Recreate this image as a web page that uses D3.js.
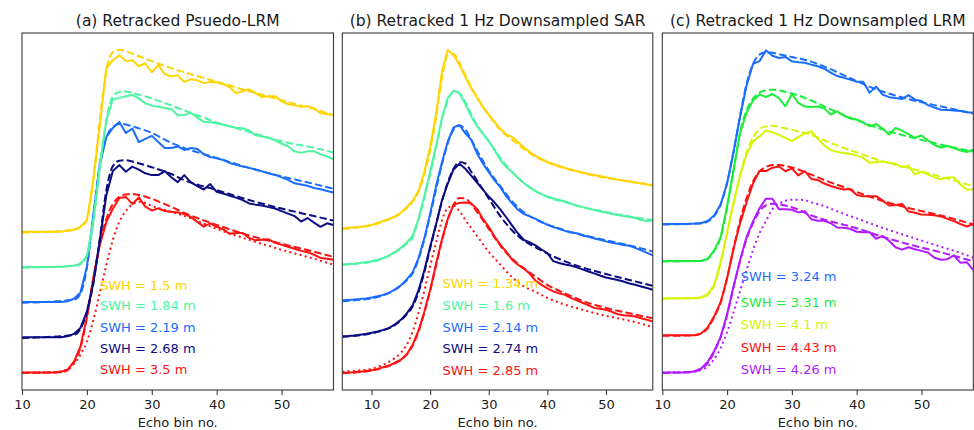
<!DOCTYPE html>
<html><head><meta charset="utf-8">
<script src="https://cdn.jsdelivr.net/npm/d3@7"></script>
<style>body{margin:0;background:#fff}svg{display:block}text{font-family:"DejaVu Sans",sans-serif}</style>
</head><body><svg id="chart" width="974" height="430"></svg>
<script>
// ---------- x (echo bin) arrays ----------
const binsLRM = [10,11,12,13,14,15,16,17,18,19,20,21,22,23,24,25,26,27,28,29,30,31,32,33,34,35,36,37,38,39,40,41,42,43,44,45,46,47,48,49,50,51,52,53,54,55,56,57,58];
const binsSAR = [5,6,7,8,9,10,11,12,13,14,15,16,17,18,19,20,21,22,23,24,25,26,27,28,29,30,31,32,33,34,35,36,37,38,39,40,41,42,43,44,45,46,47,48,49,50,51,52,53,54,55,56,57,58];
const tickValues = [10,20,30,40,50];

// ---------- panel (a): normalised power (%), bottom series first ----------
const A_obs_red    = [1,1,1,1,1,1,1.4,2.5,7.1,15.6,32.6,54.8,73.5,86.6,94.0,100.2,100.8,96.8,100.5,95.3,93.1,94.3,92.8,92.3,92.0,91.1,89.4,86.6,83.9,85.7,83.8,82.3,79.8,80.3,80.3,77.5,76.1,76.4,76.7,74.7,73.5,72.4,71.3,70.1,69.3,67.9,66.1,65.6,65.0];
const A_obs_navy   = [1,1,1,1,1,1,1,1.5,2.9,6.3,15.5,31.8,56.3,81.8,95.5,98.9,95.1,98.0,96.3,94.2,93.2,93.2,95.5,92.0,89.2,93.2,89.2,86.9,85.0,88.1,83.7,82.7,81.5,80.4,79.0,77.1,76.4,75.9,75.0,74.2,72.7,71.3,69.9,66.8,68.8,66.2,63.8,65.8,64.8];
const A_obs_blue   = [1,1,1,1,1,1,1,1.5,2.9,6.3,21.1,50.6,79.0,94.9,100.0,103.4,97.2,99.7,92.0,93.8,95.5,92.0,88.6,88.6,89.5,87.5,88.6,88.1,85.2,83.5,82.7,81.8,80.1,79.0,78.1,77.3,76.4,75.3,74.2,73.3,71.9,70.5,68.5,67.9,67.1,65.9,65.1,64.2,63.3];
const A_obs_green  = [1,1,1,1,1,1,1,1.4,1.7,2.5,7.1,27.5,58.8,84.3,96.3,97.1,98.0,98.8,96.8,94.0,92.8,92.0,91.4,90.6,87.2,87.4,88.6,86.0,83.5,83.2,82.6,81.8,80.9,80.1,79.8,78.6,75.8,75.2,74.4,73.0,71.0,69.6,66.7,65.9,66.7,66.7,65.0,63.9,62.2];
const A_obs_yellow = [1,1,1,1,1,1,1,1.6,2.1,3.7,7.6,30.4,61.6,94.0,98.5,101.4,98.0,98.5,95.1,96.8,91.7,95.7,90.6,89.4,90.0,86.2,87.7,87.2,85.5,86.2,86.0,84.9,83.2,79.8,80.9,82.0,79.8,77.5,78.1,78.1,75.2,73.5,73.0,72.0,72.4,71.3,68.4,67.9,67.3];
const A_fit_red    = [[10,0.7],[16,1.1],[17,2.2],[18,6.5],[19,15.0],[20,32.1],[21,54.8],[22,74.7],[23,88.3],[24,96.8],[25,100.8],[26,102.2],[27,102.5],[28,101.9],[30,99.7],[33,95.1],[35,91.7],[40,84.9],[45,78.9],[50,74.1],[55,69.6],[58,66.7]];
const A_fit_navy   = [[10,0.6],[18,2.3],[19,5.7],[20,15.4],[21,31.8],[22,57.4],[23,84.7],[24,98.3],[25,101.4],[26,101.7],[27,100.9],[30,97.7],[33,93.8],[35,90.3],[40,84.7],[45,79.0],[50,74.2],[55,69.9],[58,67.3]];
const A_fit_blue   = [[10,0.6],[18,2.3],[19,5.7],[20,20.5],[21,50.0],[22,80.1],[23,94.9],[24,100.6],[25,102.3],[26,102.0],[27,100.9],[30,97.2],[33,91.5],[35,88.6],[40,83.0],[45,77.3],[50,72.5],[55,68.2],[58,65.4]];
const A_fit_green  = [[10,0.5],[18,1.7],[19,3.1],[20,7.1],[21,26.4],[22,57.6],[23,84.3],[24,98.0],[25,100.5],[26,100.8],[27,99.9],[30,96.8],[33,92.8],[35,90.0],[40,83.2],[45,77.8],[50,72.4],[55,68.7],[58,66.1]];
const A_fit_yellow = [[10,0.5],[18,2.0],[19,3.7],[20,7.6],[21,31.5],[22,64.4],[23,92.8],[24,103.1],[25,104.5],[26,103.6],[28,100.8],[30,98.0],[33,94.0],[35,91.7],[40,86.3],[45,80.9],[50,75.8],[55,70.7],[58,67.3]];
const A_dot_red    = [[10,0.8],[14,1.1],[16,1.7],[17,2.8],[18,5.9],[19,11.1],[20,18.4],[21,30.9],[22,46.3],[23,62.2],[24,76.4],[25,86.6],[26,92.8],[27,96.5],[28,98.0],[29,97.4],[30,95.7],[32,93.4],[35,90.0],[40,82.6],[45,76.4],[50,70.7],[55,65.6],[58,62.2]];

// ---------- panel (b) ----------
const B_obs_red    = [0.8,0.9,1.1,1.4,1.8,2.2,3.0,4.0,4.9,6.5,8.2,11.3,16.7,24.7,35.5,48.0,62.7,76.4,88.3,96.3,97.4,97.6,97.1,94.0,88.3,83.8,78.2,73.5,69.6,65.0,62.2,59.9,57.1,53.1,50.8,48.8,47.1,46.0,45.1,43.4,42.0,40.6,39.2,37.7,37.2,36.6,35.5,34.1,33.5,33.2,32.8,31.8,30.9,30.0];
const B_obs_navy   = [1.0,1.2,1.5,1.9,2.3,3.0,3.8,4.7,5.8,7.8,10.4,14.1,18.6,27.1,38.5,52.1,64.6,78.2,87.9,95.9,99.1,96.3,92.4,88.5,84.5,80.5,77.1,73.1,68.6,64.0,59.5,55.8,54.4,52.7,50.4,48.4,43.8,42.7,41.9,41.3,40.2,39.1,37.9,36.8,35.6,34.5,33.8,33.1,32.2,31.1,30.3,29.4,28.5,27.5];
const B_obs_blue   = [1.0,1.2,1.4,1.7,2.1,2.6,3.3,4.1,5.3,7.2,9.5,12.9,16.9,24.9,36.2,50.4,65.8,79.4,91.3,99.3,100.7,95.9,92.4,84.5,78.8,73.9,69.2,65.2,60.1,56.1,52.4,50.1,48.7,47.3,45.6,43.9,42.7,41.6,40.5,39.6,39.1,37.9,37.1,36.2,35.4,34.5,33.7,33.1,32.5,32.0,30.8,29.4,28.0,26.6];
const B_obs_green  = [0.9,1.1,1.3,1.7,2.2,2.7,3.6,4.6,6.0,8.0,10.3,13.4,17.1,26.7,39.8,53.4,68.2,84.1,95.5,99.8,98.3,92.0,85.0,79.6,75.3,71.0,65.9,60.2,56.3,53.4,50.0,47.2,44.6,42.6,40.9,39.5,38.4,37.5,36.7,35.5,34.4,33.5,32.7,31.8,31.0,30.4,29.6,29.0,28.4,27.9,27.3,26.2,25.6,25.9];
const B_obs_yellow = [1.0,1.2,1.5,1.7,2.3,2.9,4.0,5.1,6.3,7.7,9.7,13.1,16.5,22.2,33.0,47.2,65.9,89.8,102.3,99.4,93.8,86.9,80.7,75.0,69.9,65.4,61.4,57.4,54.3,52.9,50.0,46.9,44.3,42.1,40.4,38.7,37.5,36.4,35.3,34.4,33.5,32.7,31.8,31.3,30.7,29.9,29.3,28.7,28.2,27.6,27.0,26.4,25.9,25.2];
const B_fit_red    = [[5,0.5],[8,1.2],[10,2.0],[12,3.7],[14,6.2],[16,11.1],[17,16.2],[18,24.1],[19,34.9],[20,47.4],[21,61.6],[22,75.8],[23,87.7],[24,96.3],[25,100.2],[26,99.9],[27,96.8],[28,92.3],[30,82.6],[32,73.0],[34,65.6],[36,60.2],[38,55.4],[40,50.8],[43,46.0],[46,41.7],[50,37.7],[54,34.6],[58,31.8]];
const B_fit_navy   = [[5,0.7],[8,1.6],[10,2.7],[12,4.4],[14,7.5],[16,13.5],[17,18.0],[18,26.0],[19,37.4],[20,51.0],[21,64.6],[22,77.7],[23,88.5],[24,96.4],[25,100.1],[26,99.3],[27,94.7],[28,89.6],[30,79.4],[32,69.2],[34,61.2],[36,55.5],[38,51.6],[40,48.1],[43,43.6],[46,40.2],[50,36.5],[54,33.1],[58,29.7]];
const B_fit_blue   = [[5,0.4],[8,1.3],[10,2.1],[12,3.8],[14,7.0],[16,12.4],[17,16.3],[18,24.3],[19,35.6],[20,49.3],[21,64.0],[22,78.2],[23,90.2],[24,98.1],[25,100.4],[26,98.1],[27,92.4],[28,86.2],[30,74.8],[32,65.8],[34,57.2],[36,51.0],[38,47.0],[40,44.2],[43,40.8],[46,38.2],[50,35.1],[54,32.2],[58,28.8]];
const B_fit_green  = [[5,0.6],[8,1.5],[10,2.3],[12,4.3],[14,7.7],[16,12.8],[17,16.2],[18,26.2],[19,38.7],[20,52.3],[21,67.1],[22,83.0],[23,94.3],[24,98.9],[25,98.3],[26,93.2],[27,86.4],[28,80.1],[30,71.0],[32,61.4],[34,53.4],[36,47.2],[38,42.6],[40,39.2],[43,36.4],[46,33.5],[50,30.7],[54,28.2],[58,26.2]];
const B_fit_yellow = [[5,0.6],[8,1.5],[10,2.6],[12,4.9],[14,7.4],[16,12.5],[17,15.9],[18,21.6],[19,31.8],[20,45.5],[21,63.7],[22,86.4],[23,99.4],[24,100.0],[25,94.9],[26,88.1],[27,81.3],[28,75.6],[30,65.4],[32,56.8],[34,51.2],[36,46.0],[38,41.5],[40,38.4],[43,35.0],[46,32.4],[50,29.6],[54,27.6],[58,25.6]];
const B_dot_red    = [[5,1.4],[8,2.2],[10,3.1],[12,5.4],[14,9.3],[15,12.2],[16,16.7],[17,24.1],[18,34.9],[19,47.4],[20,61.6],[21,74.7],[22,87.2],[23,94.5],[24,95.7],[25,92.8],[26,87.7],[27,83.2],[28,78.6],[30,69.6],[32,62.2],[34,55.1],[36,49.9],[38,46.8],[40,43.4],[43,39.5],[46,36.6],[50,33.2],[54,30.4],[58,26.8]];

// ---------- panel (c) ----------
const C_obs_purple = [1,1,1,1,1,1.7,3.2,6.9,13.1,21.1,34.1,50.0,64.8,77.9,86.9,94.3,99.8,99.8,93.8,93.8,93.5,92.0,92.6,88.1,87.2,87.2,85.8,83.4,83.2,82.7,81.0,80.7,80.7,77.0,78.6,75.9,72.2,70.8,72.2,71.0,70.1,69.2,66.2,65.1,65.4,67.6,63.4,63.7,59.1];
const C_obs_red    = [1,1,1,1,1,1,2.1,5.5,11.8,19.7,33.4,50.4,64.6,76.5,87.3,94.4,94.4,96.3,97.0,94.3,95.9,91.9,94.3,89.9,89.3,87.3,85.9,84.8,83.9,84.2,80.8,80.1,80.1,80.1,77.7,74.8,75.1,75.7,71.4,70.7,69.7,69.6,69.2,68.6,67.2,66.0,64.3,62.9,64.3];
const C_obs_yellow = [1,1,1,1,1,1,1.4,3.3,8.4,21.4,38.3,55.4,70.9,82.8,90.2,93.0,96.4,95.3,93.9,92.2,90.3,92.7,94.7,95.9,91.6,87.9,85.3,84.2,83.6,83.1,82.2,80.8,78.0,78.5,78.8,78.0,77.4,75.4,76.3,71.4,72.9,71.4,69.7,68.6,69.7,69.7,65.8,62.6,62.9];
const C_obs_green  = [1,1,1,1,1,1,1.2,2.2,7.1,14.5,32.2,53.1,73.9,85.3,92.3,95.7,94.3,96.0,93.7,89.0,96.0,90.9,88.9,88.6,88.9,87.7,84.3,86.2,83.8,82.1,81.5,79.8,77.7,78.9,76.4,73.0,76.7,75.2,73.2,71.1,72.4,69.6,67.0,65.6,66.4,65.3,63.9,63.0,64.4];
const C_obs_blue   = [1,1,1,1,1.1,1.3,1.6,2.7,5.8,12.1,24.0,42.0,62.0,79.6,92.0,93.6,99.7,96.7,95.4,96.0,93.5,93.0,92.7,91.6,90.7,89.3,87.1,85.1,84.2,83.1,81.9,81.9,75.7,79.1,74.6,73.1,72.6,72.0,74.3,71.7,70.9,68.6,67.2,66.0,65.8,65.5,65.2,64.6,64.2];
const C_fit_purple = [[10,0.7],[15,1.5],[16,2.9],[17,6.3],[18,12.5],[19,21.1],[20,33.5],[21,49.4],[22,64.2],[23,76.7],[24,85.8],[25,92.6],[26,96.0],[27,96.9],[28,96.6],[30,94.9],[33,90.3],[35,87.8],[38,85.0],[40,83.0],[44,78.1],[48,73.9],[52,70.2],[55,67.3],[58,64.2]];
const C_fit_red    = [[10,0.7],[15,1.0],[16,1.9],[17,5.0],[18,11.2],[19,19.7],[20,33.4],[21,50.4],[22,66.3],[23,78.8],[24,88.5],[25,94.2],[26,96.7],[27,97.8],[28,97.8],[30,96.4],[33,92.4],[35,89.3],[38,85.3],[40,82.5],[44,77.4],[48,73.4],[52,70.0],[55,67.2],[58,64.0]];
const C_fit_yellow = [[10,0.7],[16,1.3],[17,3.0],[18,8.1],[19,20.9],[20,37.9],[21,55.0],[22,70.9],[23,83.9],[24,92.4],[25,97.0],[26,98.7],[27,99.0],[28,98.4],[30,96.7],[33,93.9],[35,90.7],[38,86.5],[40,83.9],[44,78.8],[48,75.1],[52,71.1],[55,68.0],[58,64.6]];
const C_fit_green  = [[10,0.7],[16,1.1],[17,2.2],[18,6.8],[19,14.5],[20,31.5],[21,52.5],[22,74.1],[23,86.6],[24,93.4],[25,96.8],[26,98.2],[27,98.5],[28,98.0],[30,96.3],[33,92.3],[35,88.9],[38,84.0],[40,81.2],[44,75.8],[48,71.8],[52,68.1],[55,65.6],[58,63.3]];
const C_fit_blue   = [[10,0.7],[16,1.3],[17,2.4],[18,5.5],[19,12.1],[20,24.6],[21,42.2],[22,62.5],[23,80.5],[24,92.0],[25,97.3],[26,98.7],[27,98.4],[28,97.6],[30,95.9],[33,93.3],[35,90.5],[38,85.6],[40,82.2],[44,76.3],[48,72.0],[52,68.6],[55,66.3],[58,63.8]];
const C_dot_purple = [[10,1.0],[14,1.2],[16,2.3],[17,4.3],[18,8.6],[19,14.8],[20,23.9],[21,35.3],[22,47.2],[23,59.1],[24,70.5],[25,80.1],[26,87.1],[27,93.8],[28,96.9],[29,98.6],[30,99.2],[31,99.2],[32,98.9],[33,97.7],[35,95.5],[38,91.2],[40,88.6],[44,83.2],[48,78.4],[52,73.6],[55,70.2],[58,66.3]];

// ---------- offsets, labels, colours (bottom series first) ----------
const offsetsA = [0,20,40,60,80];
const offsetsB = [0,20.5,41,61.5,82];
const offsetsC = [0,21.1,42.2,63.3,84.4];
const swhA = ["3.5","2.68","2.19","1.84","1.5"];
const swhB = ["2.85","2.74","2.14","1.6","1.34"];
const swhC = ["4.26","4.43","4.1","3.31","3.24"];
const labelYA = [2.4,14.5,26.4,38.8,50.7];
const labelYB = [2.0,14.5,26.8,39.3,51.3];
const labelYC = [2.6,15.3,28.0,40.6,55.8];
const colorsAB = ["#ff1212","#0c0c82","#1a6dff","#4ef5a0","#ffd400"];
const colorsC  = ["#b31aff","#ff1212","#d6f500","#1aee3a","#1a6dff"];
const titles = ["(a) Retracked Psuedo-LRM","(b) Retracked 1 Hz Downsampled SAR","(c) Retracked 1 Hz Downsampled LRM"];

const panels = [
  {title:titles[0], left:22, right:333.5, xDomain:[10,58], bins:binsLRM, offsets:offsetsA, colors:colorsAB, swh:swhA, labelX:22.0, labelY:labelYA,
   obs:[A_obs_red,A_obs_navy,A_obs_blue,A_obs_green,A_obs_yellow], fit:[A_fit_red,A_fit_navy,A_fit_blue,A_fit_green,A_fit_yellow], dot:A_dot_red},
  {title:titles[1], left:342.3, right:652.8, xDomain:[5,58], bins:binsSAR, offsets:offsetsB, colors:colorsAB, swh:swhB, labelX:22.1, labelY:labelYB,
   obs:[B_obs_red,B_obs_navy,B_obs_blue,B_obs_green,B_obs_yellow], fit:[B_fit_red,B_fit_navy,B_fit_blue,B_fit_green,B_fit_yellow], dot:B_dot_red},
  {title:titles[2], left:662.3, right:973.3, xDomain:[10,58], bins:binsLRM, offsets:offsetsC, colors:colorsC, swh:swhC, labelX:22.1, labelY:labelYC,
   obs:[C_obs_purple,C_obs_red,C_obs_yellow,C_obs_green,C_obs_blue], fit:[C_fit_purple,C_fit_red,C_fit_yellow,C_fit_green,C_fit_blue], dot:C_dot_purple}
];

const plotTop = 33, plotBottom = 390;
const svg = d3.select("#chart");
const defs = svg.append("defs");

panels.forEach((p, pi) => {
  const x = d3.scaleLinear().domain(p.xDomain).range([p.left, p.right]);
  const y = d3.scaleLinear().domain([-9, 194]).range([plotBottom, plotTop]);
  const clipId = "clip" + pi;
  defs.append("clipPath").attr("id", clipId).append("rect")
    .attr("x", p.left).attr("y", plotTop).attr("width", p.right - p.left).attr("height", plotBottom - plotTop);
  const g = svg.append("g");
  const plot = g.append("g").attr("clip-path", `url(#${clipId})`);

  p.obs.forEach((vals, i) => {
    const off = p.offsets[i];
    const lineObs = d3.line().x((d, j) => x(p.bins[j])).y(d => y(d + off));
    plot.append("path").attr("d", lineObs(vals)).attr("fill", "none")
      .attr("stroke", p.colors[i]).attr("stroke-width", 2).attr("stroke-linejoin", "round");
    const lineFit = d3.line().curve(d3.curveMonotoneX).x(d => x(d[0])).y(d => y(d[1] + off));
    plot.append("path").attr("d", lineFit(p.fit[i])).attr("fill", "none")
      .attr("stroke", p.colors[i]).attr("stroke-width", 2).attr("stroke-dasharray", "7.4,3.2");
  });
  const lineDot = d3.line().curve(d3.curveMonotoneX).x(d => x(d[0])).y(d => y(d[1] + p.offsets[0]));
  plot.append("path").attr("d", lineDot(p.dot)).attr("fill", "none")
    .attr("stroke", p.colors[0]).attr("stroke-width", 2).attr("stroke-dasharray", "2,3.3");

  p.swh.forEach((s, i) => {
    g.append("text").attr("x", x(p.labelX)).attr("y", y(p.labelY[i]))
      .attr("dominant-baseline", "central").attr("font-size", 13)
      .attr("fill", p.colors[i]).text(`SWH = ${s} m`);
  });

  g.append("rect").attr("x", p.left).attr("y", plotTop).attr("width", p.right - p.left).attr("height", plotBottom - plotTop)
    .attr("fill", "none").attr("stroke", "#3a3a3a").attr("stroke-width", 1.1);

  const ax = g.append("g").attr("transform", `translate(0,${plotBottom})`)
    .call(d3.axisBottom(x).tickValues(tickValues).tickSize(4.9).tickPadding(4.6).tickFormat(d3.format("d")));
  ax.select(".domain").remove();
  ax.selectAll(".tick line").attr("stroke", "#3a3a3a").attr("stroke-width", 1.1);
  ax.selectAll(".tick text").attr("font-size", 13).attr("font-family", "DejaVu Sans, sans-serif").attr("fill", "#1a1a1a");

  g.append("text").attr("x", (p.left + p.right) / 2).attr("y", 427)
    .attr("text-anchor", "middle").attr("font-size", 13).attr("fill", "#1a1a1a").text("Echo bin no.");
  g.append("text").attr("x", (p.left + p.right) / 2).attr("y", 26)
    .attr("text-anchor", "middle").attr("font-size", 15.5).attr("fill", "#1a1a1a").text(p.title);
});
</script></body></html>
